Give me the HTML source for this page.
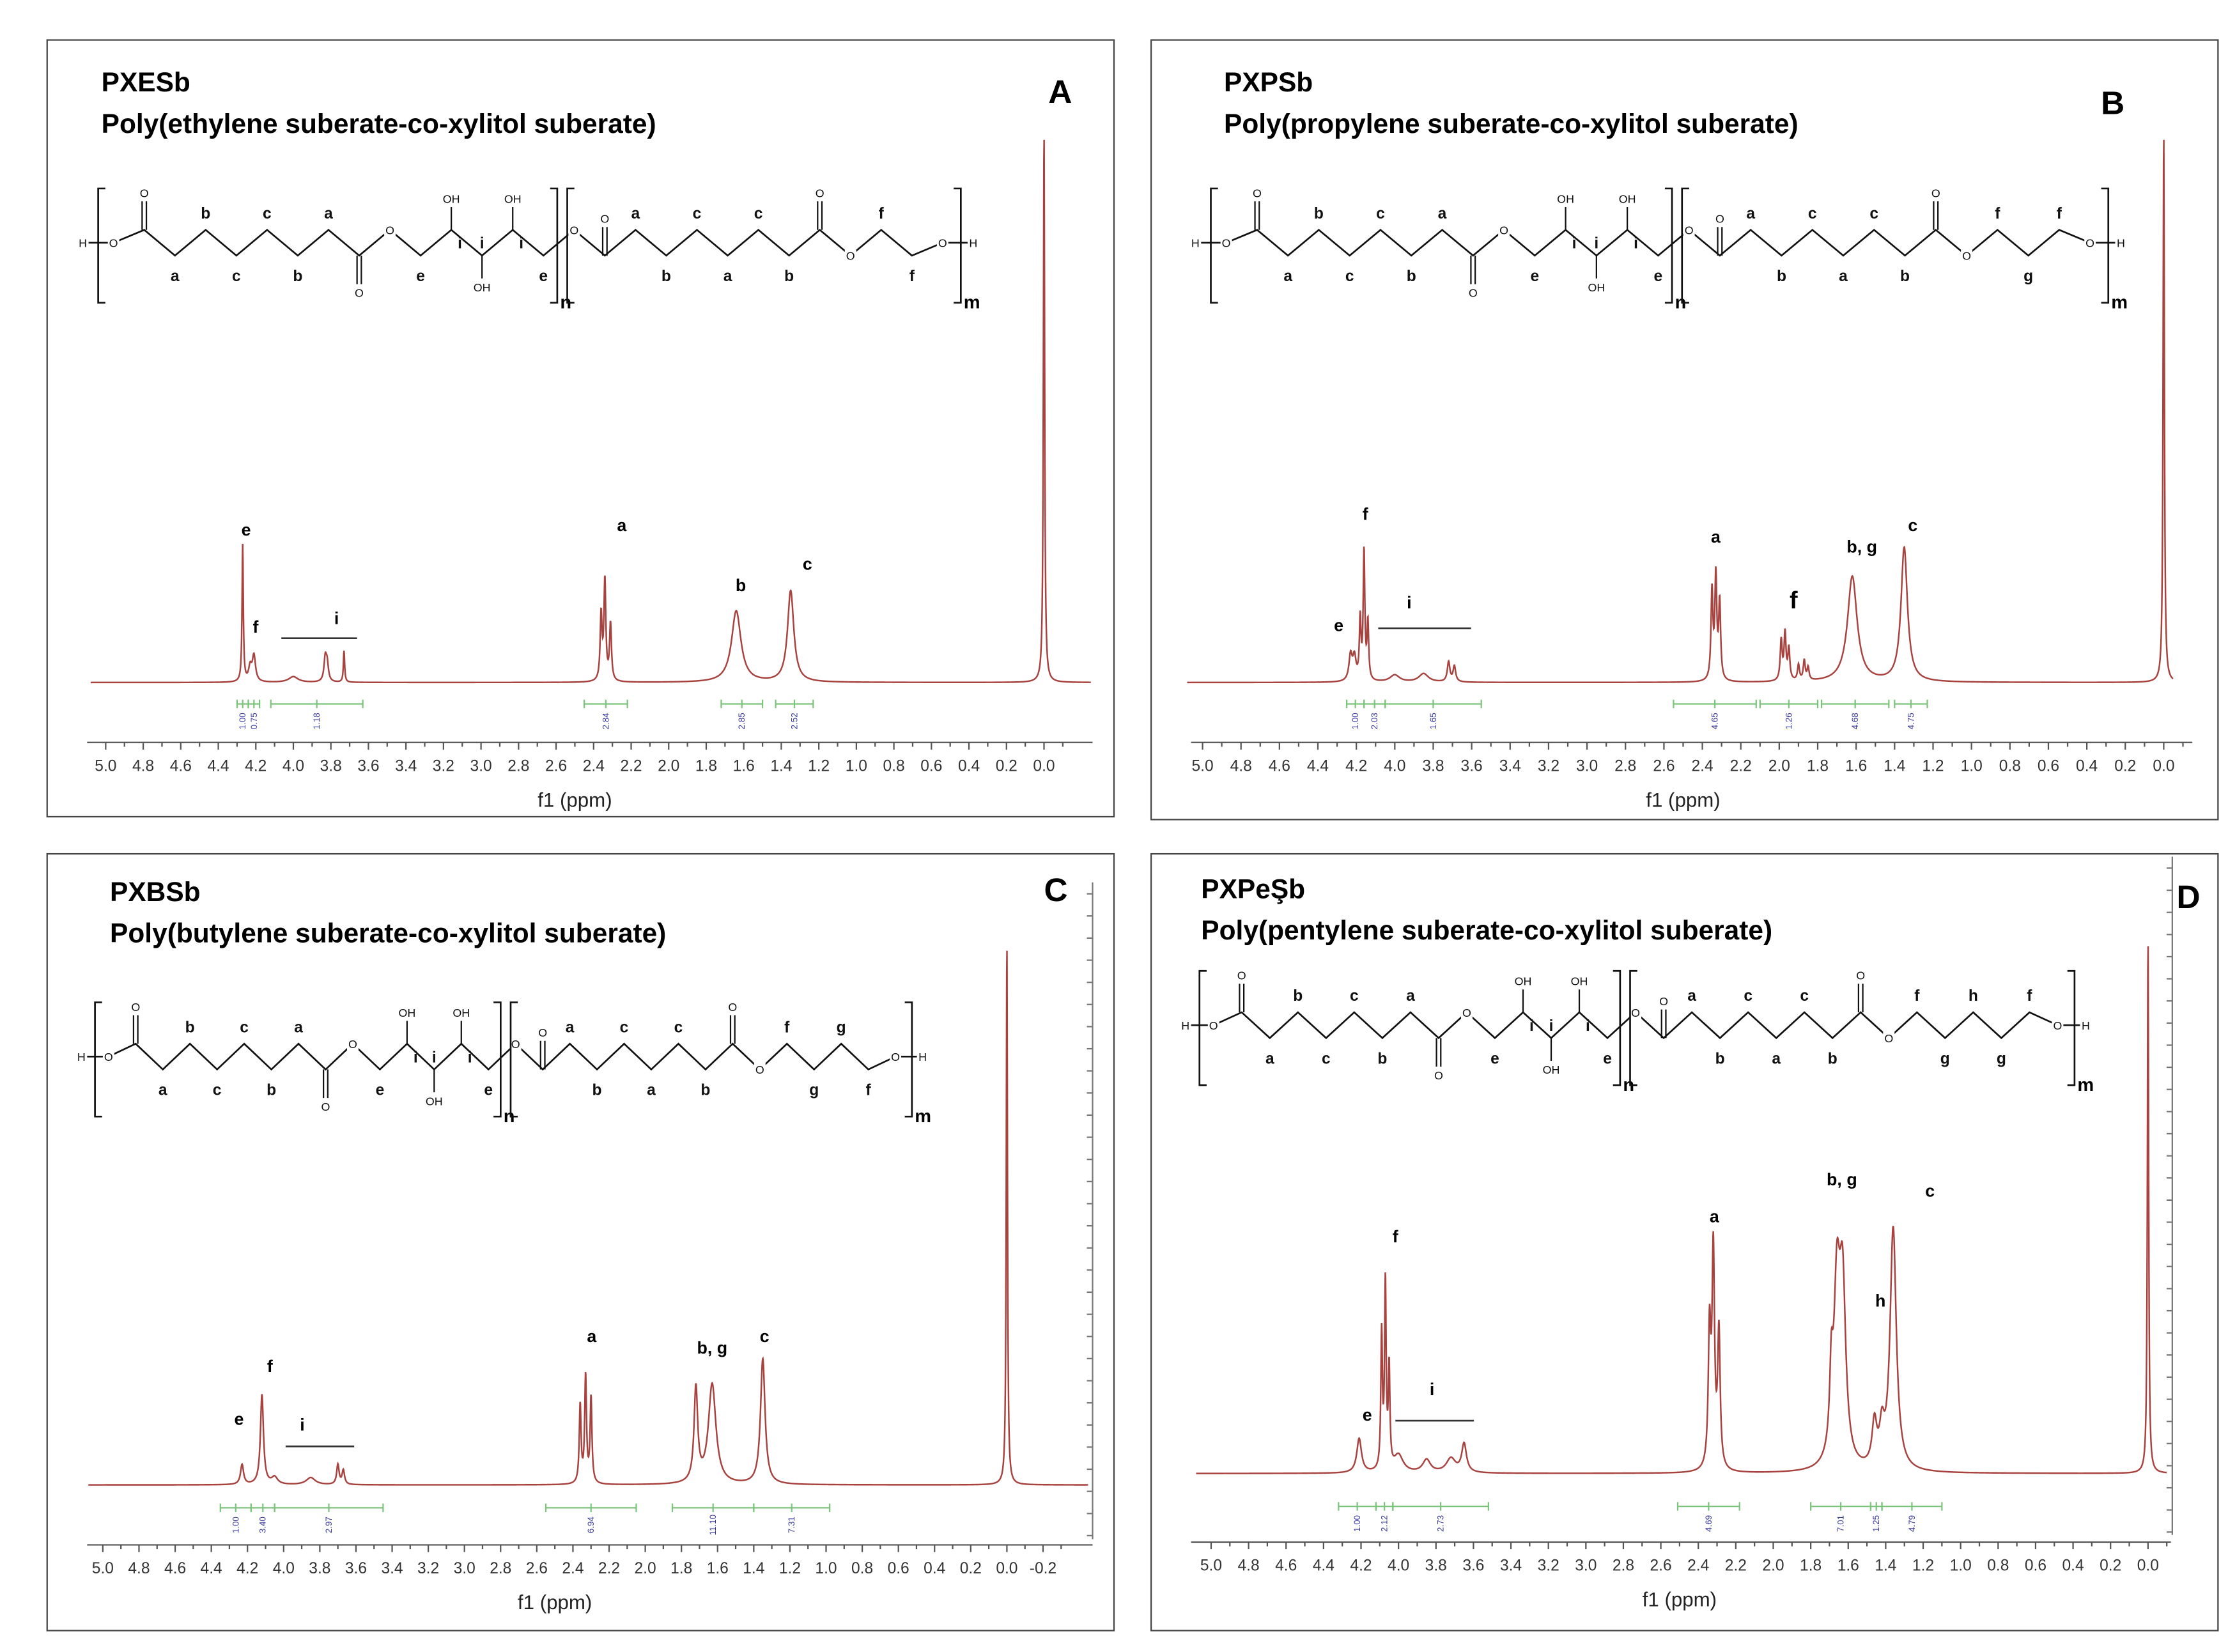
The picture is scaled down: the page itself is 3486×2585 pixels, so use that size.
<!DOCTYPE html>
<html><head><meta charset="utf-8">
<style>
html,body{margin:0;padding:0;background:#fff;}
svg{display:block;}
text{font-family:"Liberation Sans",sans-serif;}
</style></head>
<body>
<svg id="fig" xmlns="http://www.w3.org/2000/svg" width="3486" height="2585" viewBox="0 0 1560 1157" preserveAspectRatio="none">
<rect x="0" y="0" width="1560" height="1157" fill="#fff"/>
</svg>
<script>
// ---------- DATA ----------
const tickLabelsMain = ["5.0","4.8","4.6","4.4","4.2","4.0","3.8","3.6","3.4","3.2","3.0","2.8","2.6","2.4","2.2","2.0","1.8","1.6","1.4","1.2","1.0","0.8","0.6","0.4","0.2","0.0"];
const tickLabelsC = ["5.0","4.8","4.6","4.4","4.2","4.0","3.8","3.6","3.4","3.2","3.0","2.8","2.6","2.4","2.2","2.0","1.8","1.6","1.4","1.2","1.0","0.8","0.6","0.4","0.2","0.0","-0.2"];

const aPeakPpm    = [0.0, 4.27, 4.23, 4.21, 4.00, 3.83, 3.82, 3.73, 2.36, 2.34, 2.31, 1.64, 1.35];
const aPeakHeight = [386, 96, 10, 18, 4, 16, 12, 22, 46, 70, 40, 50, 64];
const aPeakWidth  = [0.004,0.004,0.01,0.01,0.03,0.008,0.008,0.004,0.006,0.006,0.006,0.03,0.02];
const aIntFrom  = [4.30, 4.24, 4.12, 2.45, 1.72, 1.43];
const aIntTo    = [4.24, 4.18, 3.63, 2.22, 1.50, 1.23];
const aIntLabel = ["1.00","0.75","1.18","2.84","2.85","2.52"];

const bPeakPpm    = [0.0, 4.23, 4.21, 4.18, 4.16, 4.14, 4.00, 3.85, 3.72, 3.69, 2.35, 2.33, 2.31, 1.99, 1.97, 1.95, 1.90, 1.87, 1.85, 1.62, 1.35];
const bPeakHeight = [386, 18, 16, 42, 90, 40, 5, 6, 14, 11, 62, 72, 54, 28, 33, 22, 11, 14, 9, 74, 94];
const bPeakWidth  = [0.004,0.01,0.01,0.005,0.005,0.005,0.03,0.03,0.008,0.008,0.006,0.006,0.006,0.006,0.006,0.006,0.006,0.006,0.006,0.03,0.02];
const bIntFrom  = [4.25, 4.16, 4.05, 2.55, 2.10, 1.78, 1.40];
const bIntTo    = [4.16, 4.05, 3.55, 2.12, 1.80, 1.43, 1.23];
const bIntLabel = ["1.00","2.03","1.65","4.65","1.26","4.68","4.75"];

const cPeakPpm    = [0.0, 4.23, 4.12, 4.05, 3.85, 3.70, 3.67, 2.36, 2.33, 2.30, 1.72, 1.63, 1.35];
const cPeakHeight = [380, 14, 63, 5, 5, 14, 10, 55, 75, 60, 66, 70, 88];
const cPeakWidth  = [0.004,0.01,0.01,0.02,0.03,0.008,0.008,0.006,0.006,0.006,0.012,0.025,0.015];
const cIntFrom  = [4.35, 4.18, 4.05, 2.55, 1.85, 1.40];
const cIntTo    = [4.18, 4.05, 3.45, 2.05, 1.40, 0.98];
const cIntLabel = ["1.00","3.40","2.97","6.94","11.10","7.31"];

const dPeakPpm    = [0.0, 4.21, 4.09, 4.07, 4.05, 4.00, 3.85, 3.72, 3.65, 2.34, 2.32, 2.29, 1.69, 1.66, 1.63, 1.46, 1.42, 1.36];
const dPeakHeight = [375, 24, 95, 130, 70, 12, 9, 10, 20, 95, 150, 95, 50, 120, 120, 30, 24, 170];
const dPeakWidth  = [0.004,0.015,0.005,0.005,0.005,0.03,0.025,0.03,0.015,0.008,0.008,0.008,0.01,0.02,0.02,0.015,0.015,0.02];
const dIntFrom  = [4.32, 4.12, 4.03, 2.51, 1.80, 1.48, 1.42];
const dIntTo    = [4.12, 4.03, 3.52, 2.18, 1.48, 1.42, 1.10];
const dIntLabel = ["1.00","2.12","2.73","4.69","7.01","1.25","4.79"];

// ---------- HELPERS ----------
const NS = "http://www.w3.org/2000/svg";
const svg = document.getElementById('fig');
function mk(tag, attrs, parent){ const e=document.createElementNS(NS,tag); for(const k in attrs) e.setAttribute(k,attrs[k]); (parent||svg).appendChild(e); return e; }
function txt(parent,x,y,s,size,weight,fill,anchor){ const t=mk('text',{x:x,y:y,'font-size':size,'font-weight':weight||'normal',fill:fill||'#000','text-anchor':anchor||'start'},parent); t.textContent=s; return t; }

function panel(cfg){
  const g = mk('g',{});
  
  
  const border = mk('rect',{x:cfg.bx,y:cfg.by,width:cfg.bw,height:cfg.bh,fill:'none',stroke:'#444','stroke-width':1},g);
  
  
  const xs = p => cfg.x0 + (5 - p) * cfg.sc;
  const ys = h => cfg.base - h;
  // titles
  const t1 = txt(g,cfg.tx,cfg.ty,cfg.code,19,'bold');
  
  
  const t2 = txt(g,cfg.tx,cfg.ty+29,cfg.title,19,'bold');
  
  
  const pl = txt(g,cfg.lx,cfg.ly,cfg.letter,23,'bold');
  
  
  // spectrum
  let d='';
  const pmin = cfg.pmin, pmax=5.08;
  for(let p=pmax; p>=pmin; p-=0.0015){
    let h=0;
    for(let i=0;i<cfg.ppm.length;i++){ const w=cfg.wid[i]; const dd=(p-cfg.ppm[i])/w; h+=cfg.hei[i]/(1+dd*dd); }
    d += (d?'L':'M') + xs(p).toFixed(2)+','+ys(h).toFixed(2);
  }
  const sp = mk('path',{d:d,fill:'none',stroke:'#a8423f','stroke-width':1.1},g);
  
  
  // integrals
  for(let i=0;i<cfg.iFrom.length;i++){
    const x1=xs(cfg.iFrom[i]), x2=xs(cfg.iTo[i]), yy=cfg.intY;
    const ig = mk('g',{},g);
    
    
    mk('line',{x1:x1,y1:yy,x2:x2,y2:yy,stroke:'#7cc47c','stroke-width':1},ig);
    mk('line',{x1:x1,y1:yy-3,x2:x1,y2:yy+3,stroke:'#7cc47c','stroke-width':1},ig);
    mk('line',{x1:x2,y1:yy-3,x2:x2,y2:yy+3,stroke:'#7cc47c','stroke-width':1},ig);
    const xm=(x1+x2)/2;
    mk('line',{x1:xm,y1:yy-3,x2:xm,y2:yy+3,stroke:'#7cc47c','stroke-width':1},ig);
    const lt = mk('text',{x:0,y:0,'font-size':6,fill:'#3a3aa0','text-anchor':'middle',transform:`translate(${xm+2},${yy+12}) rotate(-90)`},ig);
    lt.textContent=cfg.iLab[i];
  }
  // x axis
  const ax = mk('g',{},g);
  
  
  mk('line',{x1:cfg.bx+28,y1:cfg.axY,x2:cfg.axEnd,y2:cfg.axY,stroke:'#555','stroke-width':1},ax);
  for(let k=0;k<cfg.ticks.length;k++){
    const v=parseFloat(cfg.ticks[k]); const x=xs(v);
    mk('line',{x1:x,y1:cfg.axY,x2:x,y2:cfg.axY+5,stroke:'#555','stroke-width':1},ax);
    mk('line',{x1:xs(v-0.1),y1:cfg.axY,x2:xs(v-0.1),y2:cfg.axY+3,stroke:'#555','stroke-width':1},ax);
    const tl = txt(ax,x,cfg.axY+20,cfg.ticks[k],11,'normal','#333','middle');
    
    
  }
  const at = txt(g,xs(2.5),cfg.axY+45,'f1 (ppm)',14,'normal','#222','middle');
  
  
  // peak labels
  cfg.plabels.forEach(L=>{
    const pt = txt(g,L[1],L[2],L[0],L[3]||12,'bold');
    
    
  });
  mk('line',{x1:cfg.iline[0],y1:cfg.iline[2],x2:cfg.iline[1],y2:cfg.iline[2],stroke:'#333','stroke-width':1.2},g);
  // right axis
  if(cfg.rax){
    const ra = mk('g',{},g);
    
    
    mk('line',{x1:cfg.rax[0],y1:cfg.rax[1],x2:cfg.rax[0],y2:cfg.rax[2],stroke:'#777','stroke-width':1},ra);
    for(let y=cfg.rax[1]+8;y<cfg.rax[2];y+=15.5) mk('line',{x1:cfg.rax[0]-4,y1:y,x2:cfg.rax[0],y2:y,stroke:'#777','stroke-width':1},ra);
  }
  structure(g,cfg.s);
}

function structure(parent,s){
  const g = mk('g',{},parent);
  
  
  const dx=s.dx, yc=s.yc, amp=9;
  const diol=s.diol;
  const nodes=[];
  const types=['H','O','C','A','A','A','A','A','A','C','O','E','X','X','X','E','O','C','B','B','B','B','B','B','C','O'];
  diol.forEach(()=>types.push('D'));
  types.push('O'); types.push('H');
  for(let i=0;i<types.length;i++){
    let y = yc + ((i%2===0)? -amp : amp);
    if(types[i]==='H' || i===1) y=yc;
    nodes.push({x:s.x0+i*dx,y:y,t:types[i]});
  }
  nodes[nodes.length-2].y=yc;
  let p='';
  nodes.forEach((n,i)=>{p+=(i?'L':'M')+n.x+','+n.y;});
  mk('path',{d:p,fill:'none',stroke:'#111','stroke-width':1.2},g);
  const la=['a','b','c','c','b','a'], lb=['a','b','c','a','c','b'];
  let ka=0,kb=0,kd=0,kx=0;
  nodes.forEach((n,i)=>{
    const up = n.y<yc;
    if(n.t==='O'||n.t==='H'){
      mk('rect',{x:n.x-4,y:n.y-5,width:8,height:10,fill:'#fff'},g);
      txt(g,n.x,n.y+3,n.t,8,'normal','#111','middle');
    } else if(n.t==='C'){
      const dir = (i===17)? -1 : (up?-1:1);
      const y2=n.y+dir*20;
      mk('line',{x1:n.x-1.5,y1:n.y,x2:n.x-1.5,y2:y2,stroke:'#111','stroke-width':1},g);
      mk('line',{x1:n.x+1.5,y1:n.y,x2:n.x+1.5,y2:y2,stroke:'#111','stroke-width':1},g);
      txt(g,n.x,y2+(dir<0?-3:9),'O',8,'normal','#111','middle');
    } else if(n.t==='X'){
      const dir = up?-1:1; const y2=n.y+dir*16;
      mk('line',{x1:n.x,y1:n.y,x2:n.x,y2:y2,stroke:'#111','stroke-width':1},g);
      txt(g,n.x,y2+(dir<0?-3:9),'OH',8,'normal','#111','middle');
      txt(g,n.x+(kx===1?0:6),yc+4,'i',11,'bold','#111','middle'); kx++;
    } else {
      let L = n.t==='A'?la[ka++]: n.t==='B'?lb[kb++]: n.t==='E'?'e': diol[kd++];
      txt(g,n.x,up? n.y-8 : n.y+18,L,11,'bold','#111','middle');
    }
  });
  const bt=yc-38, bb=yc+42;
  function br(x,dir){ mk('path',{d:`M${x+dir*5},${bt}L${x},${bt}L${x},${bb}L${x+dir*5},${bb}`,fill:'none',stroke:'#111','stroke-width':1.2},g); }
  const xl=(nodes[0].x+nodes[1].x)/2; br(xl,1);
  const xn=nodes[15].x+dx*0.45; br(xn,-1); txt(g,xn+2,bb+4,'n',13,'bold');
  br(xn+7,1);
  const xm=(nodes[nodes.length-2].x+nodes[nodes.length-1].x)/2+2; br(xm,-1); txt(g,xm+2,bb+4,'m',13,'bold');
}

// ---------- PANELS ----------
panel({name:'panel-a',bx:33,by:28,bw:747,bh:544,x0:74,sc:131.4,base:478,pmin:-0.25,intY:493,axY:520,axEnd:765,
  ticks:tickLabelsMain,tx:71,ty:64,code:'PXESb',title:'Poly(ethylene suberate-co-xylitol suberate)',letter:'A',lx:734,ly:72,
  ppm:aPeakPpm,hei:aPeakHeight,wid:aPeakWidth,iFrom:aIntFrom,iTo:aIntTo,iLab:aIntLabel,
  plabels:[['e',169,375],['f',177,443],['i',234,437],['a',432,372],['b',515,414],['c',562,399]],iline:[197,250,447],
  s:{x0:58,yc:170,dx:21.5,diol:['f','f']}});
panel({name:'panel-b',bx:806,by:28,bw:747,bh:546,x0:842,sc:134.6,base:478,pmin:-0.05,intY:493,axY:520,axEnd:1535,
  ticks:tickLabelsMain,tx:857,ty:64,code:'PXPSb',title:'Poly(propylene suberate-co-xylitol suberate)',letter:'B',lx:1471,ly:80,
  ppm:bPeakPpm,hei:bPeakHeight,wid:bPeakWidth,iFrom:bIntFrom,iTo:bIntTo,iLab:bIntLabel,
  plabels:[['e',934,442],['f',954,364],['i',985,426],['a',1198,380],['f',1253,426,17],['b, g',1293,387],['c',1336,372]],iline:[965,1030,440],
  s:{x0:837,yc:170,dx:21.6,diol:['f','g','f']}});
panel({name:'panel-c',bx:33,by:598,bw:747,bh:544,x0:72,sc:126.6,base:1040,pmin:-0.45,intY:1056,axY:1082,axEnd:765,
  ticks:tickLabelsC,tx:77,ty:631,code:'PXBSb',title:'Poly(butylene suberate-co-xylitol suberate)',letter:'C',lx:731,ly:631,
  ppm:cPeakPpm,hei:cPeakHeight,wid:cPeakWidth,iFrom:cIntFrom,iTo:cIntTo,iLab:cIntLabel,
  plabels:[['e',164,998],['f',187,961],['i',210,1002],['a',411,940],['b, g',488,948],['c',532,940]],iline:[200,248,1013],
  rax:[765,618,1078],
  s:{x0:57,yc:740,dx:19,diol:['f','g','g','f']}});
panel({name:'panel-d',bx:806,by:598,bw:747,bh:544,x0:848,sc:131.2,base:1032,pmin:-0.1,intY:1055,axY:1080,axEnd:1520,
  ticks:tickLabelsMain,tx:841,ty:629,code:'PXPeŞb',title:'Poly(pentylene suberate-co-xylitol suberate)',letter:'D',lx:1524,ly:636,
  ppm:dPeakPpm,hei:dPeakHeight,wid:dPeakWidth,iFrom:dIntFrom,iTo:dIntTo,iLab:dIntLabel,
  plabels:[['e',954,995],['f',975,870],['i',1001,977],['a',1197,856],['b, g',1279,830],['h',1313,915],['c',1348,838]],iline:[977,1032,995],
  rax:[1521,600,1075],
  s:{x0:830,yc:718,dx:19.7,diol:['f','g','h','g','f']}});
</script>
</body></html>
